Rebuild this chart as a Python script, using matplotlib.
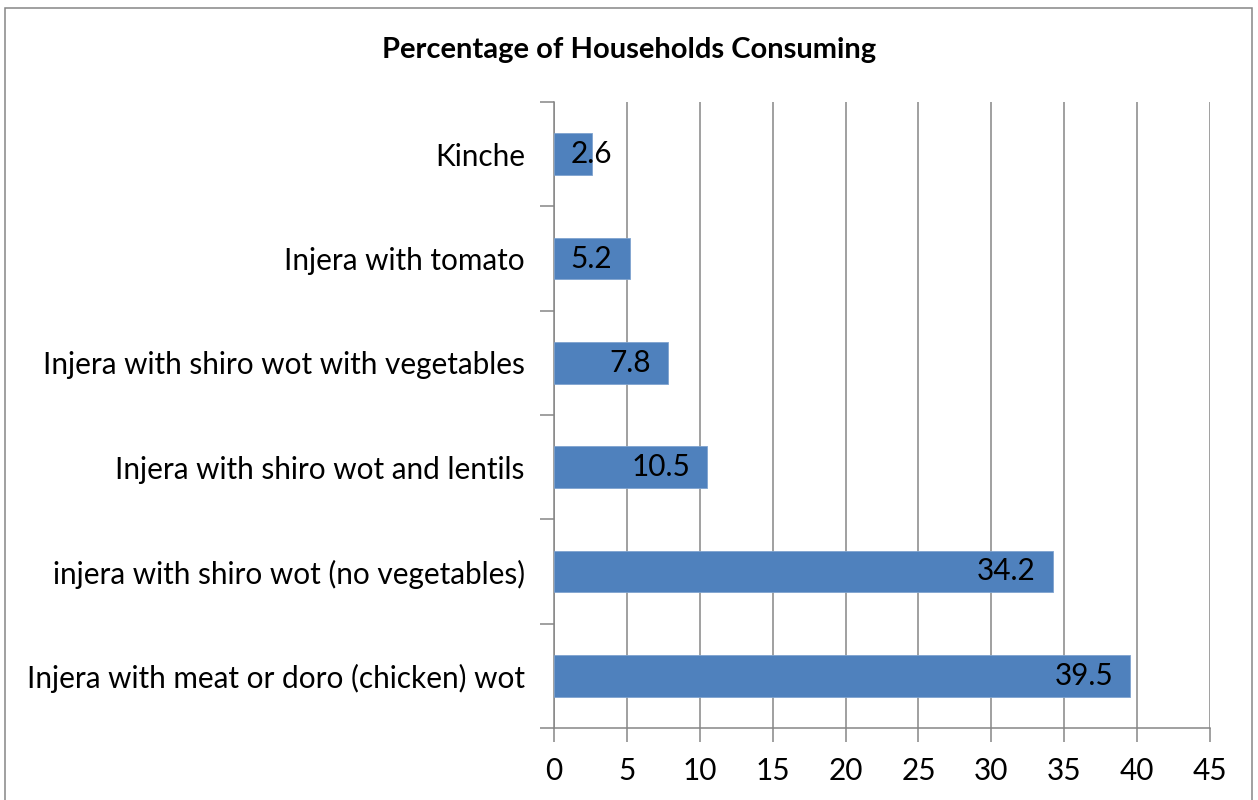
import matplotlib
matplotlib.use("Agg")
import matplotlib.pyplot as plt
from matplotlib.patches import Rectangle

# Data (bottom to top, as drawn)
dishes = [
    "Injera with meat or doro (chicken) wot",
    "injera with shiro wot (no vegetables)",
    "Injera with shiro wot and lentils",
    "Injera with shiro wot with vegetables",
    "Injera with tomato",
    "Kinche",
]
percent = [39.5, 34.2, 10.5, 7.8, 5.2, 2.6]
xticks = [0, 5, 10, 15, 20, 25, 30, 35, 40, 45]

plt.rcParams["font.family"] = ["Lato", "DejaVu Sans"]
grey = "#868686"
fs = 21.4

fig = plt.figure(figsize=(12.58, 8), dpi=100)
ax = fig.add_axes([554 / 1258, 1 - 728 / 800, 656 / 1258, 626 / 800])

ypos = list(range(len(dishes)))
ax.barh(ypos, percent, height=0.4, color="#4F81BD", edgecolor="#7FA3CF",
        linewidth=0.6, zorder=3)

ax.set_xlim(0, 45)
ax.set_ylim(-0.5, len(dishes) - 0.5)
ax.set_xticks(xticks)
ax.set_xticklabels([str(t) for t in xticks], fontsize=fs)
ax.set_yticks(ypos)
ax.set_yticklabels(dishes, fontsize=fs)
ax.tick_params(axis="y", length=0, pad=21)
ax.tick_params(axis="x", length=10, width=1.1, color=grey, pad=11)

# category boundary ticks on the y axis
ax.set_yticks([y - 0.5 for y in range(len(dishes) + 1)], minor=True)
ax.tick_params(axis="y", which="minor", length=10, width=1.1, color=grey)

ax.grid(axis="x", color=grey, linewidth=1.1, zorder=0)
for side in ["top", "right"]:
    ax.spines[side].set_visible(False)
for side in ["left", "bottom"]:
    ax.spines[side].set_color(grey)
    ax.spines[side].set_linewidth(1.1)

for y, v in zip(ypos, percent):
    if v < 6:
        ax.annotate(f"{v}", (0, y), xytext=(12, 0), textcoords="offset points",
                    ha="left", va="center", fontsize=fs, zorder=4)
    else:
        ax.annotate(f"{v}", (v, y), xytext=(-12, 0), textcoords="offset points",
                    ha="right", va="center", fontsize=fs, zorder=4)

fig.text(0.5, 1 - 50 / 800, "Percentage of Households Consuming",
         ha="center", va="center", fontsize=21, fontweight="bold")

fig.patches.append(Rectangle((5 / 1258, -0.01), 1247 / 1258, 1 - 8 / 800 + 0.01,
                             transform=fig.transFigure, fill=False,
                             edgecolor=grey, linewidth=1.1))

fig.savefig("out.png", dpi=100)
